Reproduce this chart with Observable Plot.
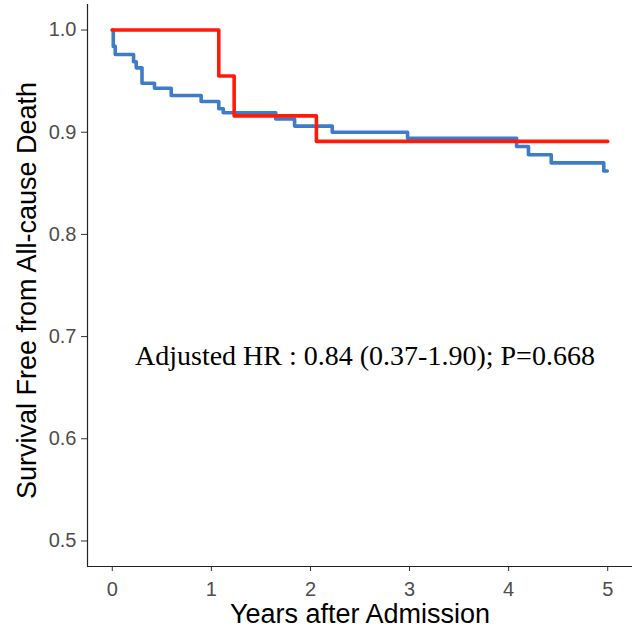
<!DOCTYPE html>
<html>
<head>
<meta charset="utf-8">
<script src="https://cdn.jsdelivr.net/npm/d3@7"></script>
<script src="https://cdn.jsdelivr.net/npm/@observablehq/plot@0.6"></script>
<style>
  html, body { margin: 0; padding: 0; background: #fff; }
</style>
</head>
<body>
<div id="chart"></div>
<script>
// Data
const blueTime = [0, 0.01, 0.03, 0.215, 0.242, 0.30, 0.426, 0.595, 0.897, 1.075, 1.12, 1.65, 1.84, 2.22, 2.98, 4.08, 4.20, 4.43, 4.96, 4.995];
const blueSurv = [1.0, 0.984, 0.976, 0.969, 0.963, 0.948, 0.943, 0.936, 0.930, 0.923, 0.919, 0.913, 0.906, 0.900, 0.894, 0.886, 0.878, 0.870, 0.862, 0.862];
const redTime = [0, 1.075, 1.23, 2.06, 5.0];
const redSurv = [1.0, 0.955, 0.916, 0.891, 0.891];

const xTicks = [0, 1, 2, 3, 4, 5];
const yTicks = [0.5, 0.6, 0.7, 0.8, 0.9, 1.0];
const xTitle = "Years after Admission";
const yTitle = "Survival Free from All-cause Death";
const annotation = "Adjusted HR : 0.84 (0.37-1.90); P=0.668";
const annotX = 2.55;
const annotY = 0.681;

const blue = blueTime.map((t, i) => ({t, s: blueSurv[i]}));
const red = redTime.map((t, i) => ({t, s: redSurv[i]}));

const xDomain = [-0.25, 5.25];
const yDomain = [0.475, 1.025];

const chart = Plot.plot({
  width: 636,
  height: 633,
  marginTop: 4,
  marginBottom: 67,
  marginLeft: 87,
  marginRight: 4,
  style: {fontFamily: "'Liberation Sans', Arial, sans-serif", background: "#fff", color: "#333", overflow: "visible"},
  x: {domain: xDomain},
  y: {domain: yDomain},
  marks: [
    Plot.axisX({ticks: xTicks, tickSize: 5, tickPadding: 10, fontSize: 20, label: null, stroke: "#333", fill: "#4d4d4d", tickFormat: d3.format("d")}),
    Plot.axisY({ticks: yTicks, tickSize: 6, tickPadding: 5, fontSize: 20, label: null, stroke: "#333", fill: "#4d4d4d", tickFormat: d3.format(".1f")}),
    Plot.ruleX([xDomain[0]], {stroke: "#222", strokeWidth: 1.2}),
    Plot.ruleY([yDomain[0]], {stroke: "#222", strokeWidth: 1.2}),
    Plot.line(blue, {x: "t", y: "s", curve: "step-after", stroke: "#3d7cc9", strokeWidth: 3.6}),
    Plot.line(red, {x: "t", y: "s", curve: "step-after", stroke: "#ff1a0a", strokeWidth: 3.6}),
    Plot.text([annotation], {x: () => annotX, y: () => annotY, text: d => d, fontSize: 28, fontFamily: "'Liberation Serif', 'Times New Roman', serif", fill: "#000", textAnchor: "middle", lineAnchor: "middle"}),
    Plot.text([xTitle], {text: d => d, frameAnchor: "bottom", dy: 48, fontSize: 27, fill: "#000", textAnchor: "middle", lineAnchor: "middle"}),
    Plot.text([yTitle], {text: d => d, frameAnchor: "left", rotate: -90, dx: -60, dy: 5, fontSize: 27, fill: "#000", textAnchor: "middle", lineAnchor: "middle"})
  ]
});
document.getElementById("chart").appendChild(chart);
</script>
</body>
</html>
